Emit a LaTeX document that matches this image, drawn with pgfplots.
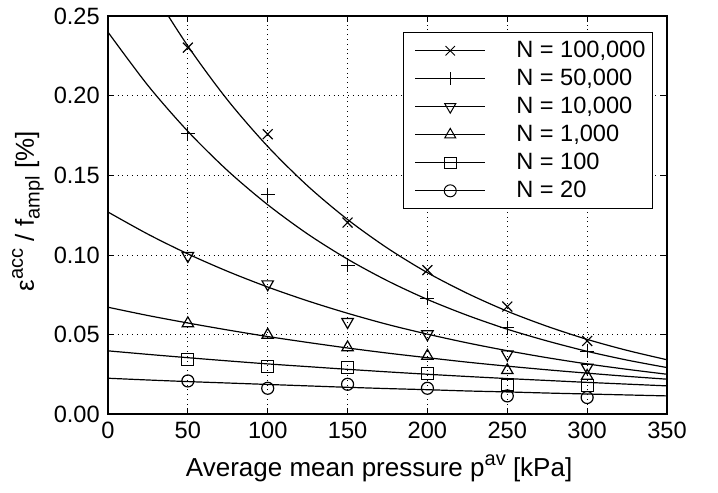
\documentclass[border=0pt]{standalone}
\usepackage{fontspec}
\setmainfont{Liberation Sans}
\usepackage{pgfplots}
\pgfplotsset{compat=1.18}
\newcommand\f{\fontsize{11.8}{14.2}\selectfont}
\newcommand\lgf{\fontsize{11.8}{13.6}\selectfont}
\newcommand\lf{\fontsize{13}{15.5}\selectfont}
\newcommand\mysup[1]{\raisebox{0.42em}{\fontsize{10}{12}\selectfont #1}}
\newcommand\mysub[1]{\raisebox{-0.22em}{\fontsize{10}{12}\selectfont #1}}
\begin{document}
\f
\begin{tikzpicture}
\begin{axis}[
  scale only axis, width=279.5pt, height=199pt,
  xmin=0, xmax=350, ymin=0, ymax=0.25,
  xtick={0,50,100,150,200,250,300,350},
  ytick={0,0.05,0.1,0.15,0.2,0.25},
  yticklabel style={/pgf/number format/.cd,fixed,fixed zerofill,precision=2},
  /pgf/number format/assume math mode=true,
  tick label style={font=\f},
  label style={font=\lf},
  grid=major, grid style={dotted, black, line width=0.45pt},
  axis line style={line width=1pt},
  tick style={black, line width=0.5pt}, tick align=inside, major tick length=3pt,
  xlabel={Average mean pressure p\mysup{av} [kPa]},
  xlabel style={at={(axis description cs:0.485,0)}, anchor=base, yshift=-30.9pt},
  ylabel={ε\mysup{acc} / f\mysub{ampl} [\%]},
  ylabel style={at={(axis description cs:-0.1431,0.51)}, anchor=center},
  legend style={at={(1,1)}, anchor=north east, xshift=-7pt, yshift=-8pt,
    draw=black, line width=0.5pt, fill=white, font=\lgf, row sep=0pt,
    inner xsep=1.5pt, inner ysep=2pt, cells={anchor=west}},
  legend image code/.code={\path[draw=none] (-4.5pt,0pt) -- (48.5pt,0pt);\draw[mark repeat=2,mark phase=2,#1] plot coordinates {(0pt,0pt) (17.5pt,0pt) (35pt,0pt)};},
]
\addlegendimage{black, line width=0.5pt, mark=x, mark size=3.3pt}
\addlegendentry{N = 100,000}
\addlegendimage{black, line width=0.5pt, mark=+, mark size=3.3pt}
\addlegendentry{N = 50,000}
\addlegendimage{black, line width=0.5pt, mark=triangle, mark size=3.2pt, mark options={rotate=180}}
\addlegendentry{N = 10,000}
\addlegendimage{black, line width=0.5pt, mark=triangle, mark size=3.2pt}
\addlegendentry{N = 1,000}
\addlegendimage{black, line width=0.5pt, mark=square, mark size=2.9pt}
\addlegendentry{N = 100}
\addlegendimage{black, line width=0.5pt, mark=o, mark size=3pt}
\addlegendentry{N = 20}

% fitted curves
\addplot[black, line width=0.6pt, smooth, forget plot] coordinates {
(0,0.3180)(25,0.2712)(50,0.2313)(75,0.1972)(100,0.1682)(125,0.1434)(150,0.1223)(175,0.1043)(200,0.0889)(225,0.0759)(250,0.0647)(275,0.0552)(300,0.0470)(325,0.0401)(350,0.0342)};
\addplot[black, line width=0.6pt, smooth, forget plot] coordinates {
(0,0.2400)(25,0.2065)(50,0.1777)(75,0.1529)(100,0.1316)(125,0.1132)(150,0.0974)(175,0.0838)(200,0.0721)(225,0.0621)(250,0.0534)(275,0.0460)(300,0.0395)(325,0.0340)(350,0.0293)};
\addplot[black, line width=0.6pt, smooth, forget plot] coordinates {
(0,0.1270)(25,0.1131)(50,0.1007)(75,0.0897)(100,0.0799)(125,0.0712)(150,0.0634)(175,0.0564)(200,0.0503)(225,0.0448)(250,0.0399)(275,0.0355)(300,0.0316)(325,0.0282)(350,0.0251)};
\addplot[black, line width=0.6pt, smooth, forget plot] coordinates {
(0,0.0672)(25,0.0620)(50,0.0573)(75,0.0529)(100,0.0488)(125,0.0451)(150,0.0416)(175,0.0384)(200,0.0355)(225,0.0327)(250,0.0302)(275,0.0279)(300,0.0258)(325,0.0238)(350,0.0220)};
\addplot[black, line width=0.6pt, smooth, forget plot] coordinates {
(0,0.0398)(25,0.0376)(50,0.0355)(75,0.0335)(100,0.0316)(125,0.0299)(150,0.0282)(175,0.0266)(200,0.0251)(225,0.0237)(250,0.0224)(275,0.0212)(300,0.0200)(325,0.0189)(350,0.0178)};
\addplot[black, line width=0.6pt, smooth, forget plot] coordinates {
(0,0.0226)(25,0.0215)(50,0.0205)(75,0.0196)(100,0.0187)(125,0.0178)(150,0.0169)(175,0.0161)(200,0.0154)(225,0.0146)(250,0.0140)(275,0.0133)(300,0.0127)(325,0.0121)(350,0.0115)};

% measured points
\addplot[black, only marks, mark=x, mark size=3.5pt, mark options={line width=0.6pt}, forget plot] coordinates {
(50,0.2303)(100,0.1759)(150,0.1204)(200,0.0905)(250,0.0676)(300,0.0460)};
\addplot[black, only marks, mark=+, mark size=3.5pt, mark options={line width=0.6pt}, forget plot] coordinates {
(50,0.1763)(100,0.1380)(150,0.0936)(200,0.0727)(250,0.0544)(300,0.0394)};
\addplot[black, only marks, mark=triangle, mark size=3.3pt, mark options={line width=0.6pt, rotate=180}, forget plot] coordinates {
(50,0.0995)(100,0.0817)(150,0.0580)(200,0.0503)(250,0.0377)(300,0.0293)};
\addplot[black, only marks, mark=triangle, mark size=3.3pt, mark options={line width=0.6pt}, forget plot] coordinates {
(50,0.0570)(100,0.0498)(150,0.0419)(200,0.0366)(250,0.0276)(300,0.0240)};
\addplot[black, only marks, mark=square, mark size=3pt, mark options={line width=0.6pt}, forget plot] coordinates {
(50,0.0345)(100,0.0300)(150,0.0293)(200,0.0255)(250,0.0184)(300,0.0178)};
\addplot[black, only marks, mark=o, mark size=3pt, mark options={line width=0.6pt}, forget plot] coordinates {
(50,0.0209)(100,0.0163)(150,0.0188)(200,0.0163)(250,0.0115)(300,0.0105)};
\end{axis}
\path ([shift={(-54pt,-39pt)}]current axis.south west) rectangle ([shift={(25.5pt,6pt)}]current axis.north east);
\end{tikzpicture}
\end{document}
